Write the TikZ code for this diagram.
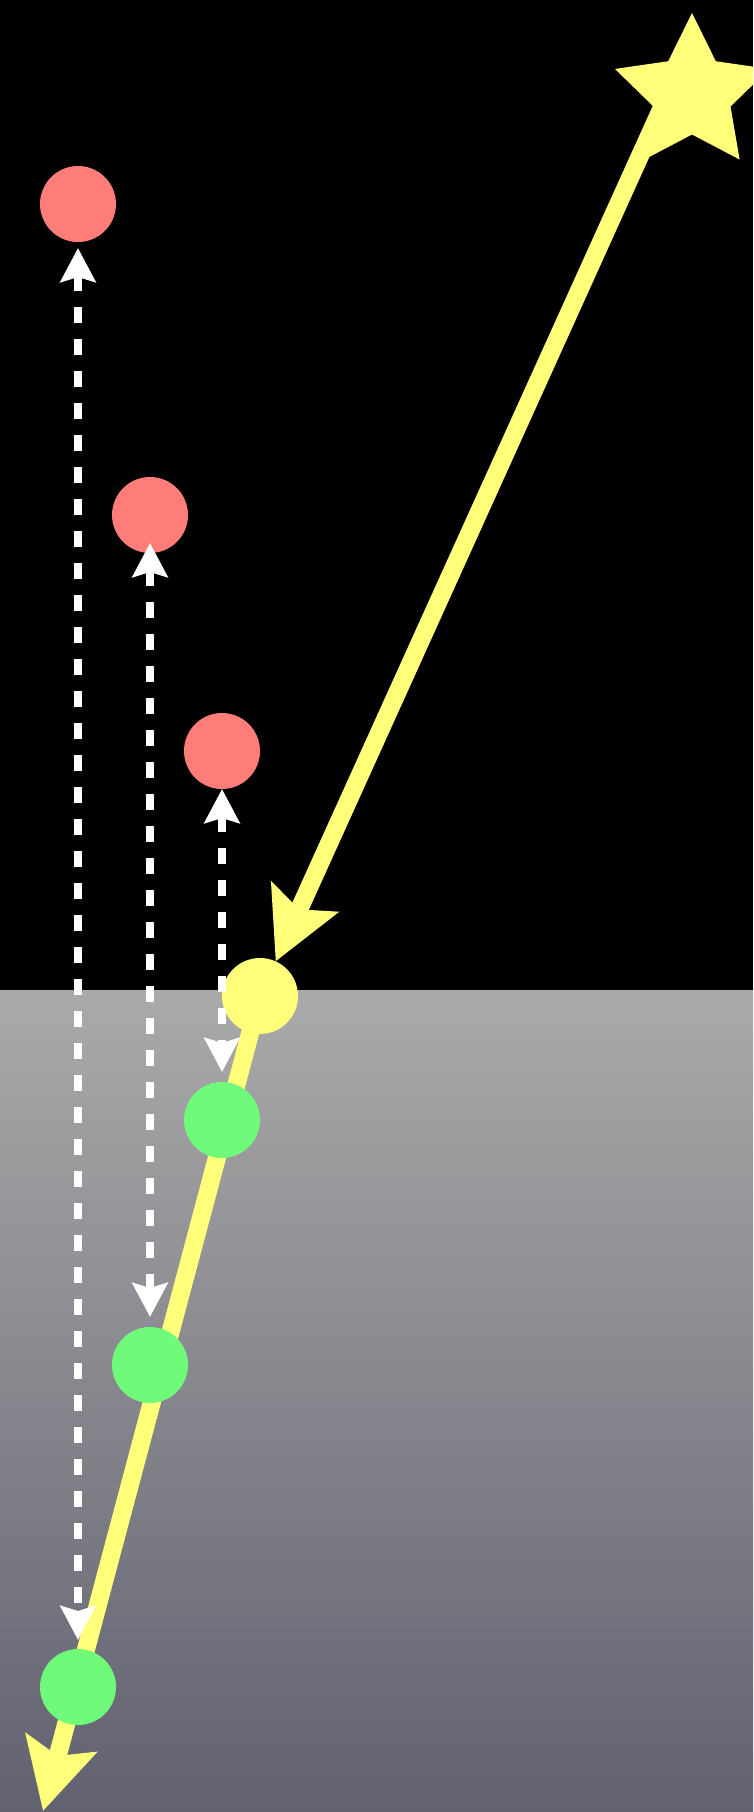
\documentclass[tikz,border=0pt]{standalone}
\usepackage{xcolor}
\usepackage{tikz}
\usetikzlibrary{arrows.meta, shapes.geometric}

\definecolor{sunyellow}{RGB}{255,255,122}
\definecolor{imgred}{RGB}{255,125,120}
\definecolor{dotgreen}{RGB}{112,250,122}
\definecolor{groundtop}{RGB}{170,170,170}
\definecolor{groundbot}{RGB}{97,97,112}

\pgfdeclarelayer{ground}
\pgfdeclarelayer{rays}
\pgfdeclarelayer{sights}
\pgfsetlayers{ground,rays,main,sights}

\begin{document}
\begin{tikzpicture}[
  x=1pt, y=-1pt,
  dot/.style={circle, minimum size=76pt, inner sep=0pt, outer sep=0pt},
  image/.style={dot, fill=imgred},
  drop/.style={dot, fill=dotgreen},
  sun/.style={star, star points=5, star point ratio=2.0, minimum size=162pt,
              inner sep=0pt, outer sep=0pt, fill=sunyellow},
  ray/.style={draw=sunyellow, line width=18pt,
              -{Stealth[length=70pt, width=72pt, inset=13pt]}},
  sight/.style={draw=white, line width=8pt, dash pattern=on 16pt off 16pt,
                {Stealth[length=34pt, width=35pt, inset=5pt]}-{Stealth[length=34pt, width=35pt, inset=5pt]}}
]
  \clip (0,0) rectangle (753,1812);

  % sky and ground
  \begin{pgfonlayer}{ground}
    \fill[black] (0,0) rectangle (753,990);
    \fill[top color=groundtop, bottom color=groundbot] (0,990) rectangle (753,1812);
  \end{pgfonlayer}

  \node[sun] (star) at (692,94) {};
  \coordinate (glint) at (668,94);
  \node[dot, fill=sunyellow] (hit) at (260,996) {};

  \node[image] (red1) at (78,204) {};
  \node[image] (red2) at (150,515) {};
  \node[image] (red3) at (222,751) {};

  \node[drop] (grn1) at (222,1120) {};
  \node[drop] (grn2) at (150,1365) {};
  \node[drop] (grn3) at (78,1687) {};

  \coordinate (sink) at (43,1811);

  \begin{pgfonlayer}{rays}
    \draw[ray] (glint) -- (hit);
    \draw[ray] (hit.center) -- (sink);
  \end{pgfonlayer}

  \begin{pgfonlayer}{sights}
    \draw[sight, shorten <=6pt, shorten >=9pt] (red1) -- (grn3);
    \draw[sight, shorten <=-10pt, shorten >=10pt] (red2) -- (grn2);
    \draw[sight, shorten >=10pt] (red3) -- (grn1);
  \end{pgfonlayer}
\end{tikzpicture}
\end{document}
